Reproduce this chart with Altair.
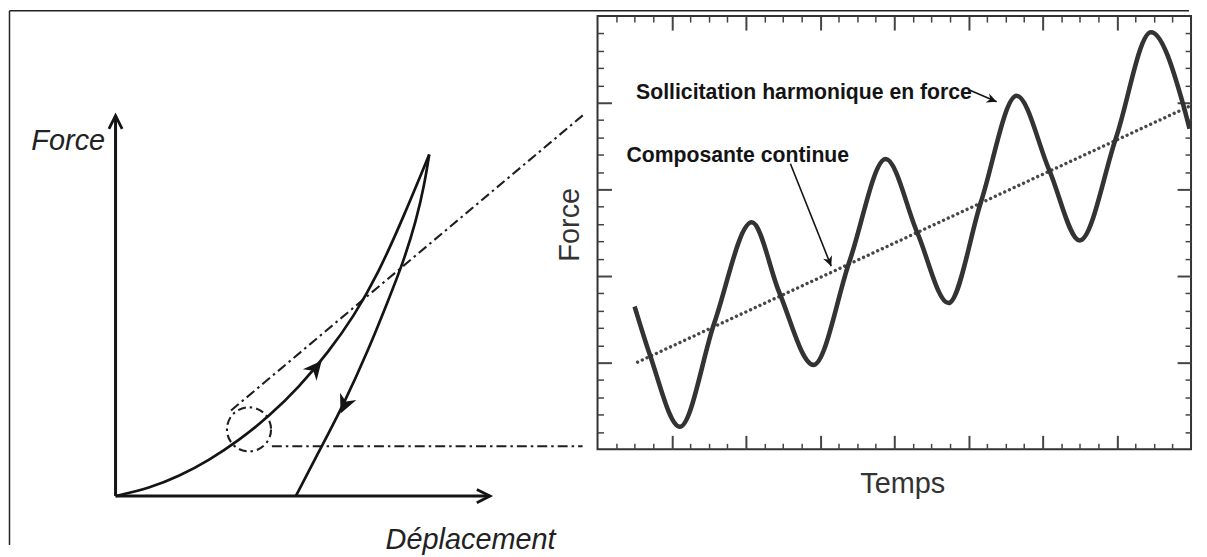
import altair as alt
import pandas as pd

FONT = "Liberation Sans"

# ---------------- right panel : Force vs Temps ----------------
sine_t = [0.50, 0.71, 1.11, 1.575, 2.08, 2.45, 2.91, 3.40, 3.885, 4.31, 4.73, 5.17, 5.65, 6.09, 6.50, 6.99, 7.46, 7.90, 7.98]
sine_f = [8.24, 5.40, 1.30, 7.30, 13.10, 9.05, 4.87, 10.90, 16.75, 12.50, 8.44, 14.30, 20.40, 16.10, 12.05, 18.00, 24.07, 19.80, 18.50]
trend_t = [0.54, 7.98]
trend_f = [5.03, 19.80]

x_major_ticks = [1, 2, 3, 4, 5, 6, 7]
x_minor_ticks = [0.25, 0.5, 0.75, 1.25, 1.5, 1.75, 2.25, 2.5, 2.75, 3.25, 3.5, 3.75,
                 4.25, 4.5, 4.75, 5.25, 5.5, 5.75, 6.25, 6.5, 6.75, 7.25, 7.5, 7.75]
y_major_ticks = [5, 10, 15, 20]
y_minor_ticks = [1, 2, 3, 4, 6, 7, 8, 9, 11, 12, 13, 14, 16, 17, 18, 19, 21, 22, 23, 24]

note_text = ["Sollicitation harmonique en force", "Composante continue"]
note_t = [0.52, 0.39]
note_f = [20.59, 16.95]
pointer_t0 = [5.02, 2.60]
pointer_f0 = [20.72, 16.48]
pointer_t1 = [5.38, 3.15]
pointer_f1 = [20.06, 10.57]
pointer_dir = [111.5, 158.3]

# ---------------- left panel : schematic Force / Deplacement ----------------
load_x = [0.0, 3.4, 6.4, 9.4, 12.4, 15.4, 18.4, 21.4, 23.9, 26.4, 28.9, 31.5]
load_y = [0.0, 0.8, 2.0, 3.6, 5.6, 8.0, 10.9, 14.5, 18.0, 22.4, 28.0, 34.3]
unload_x = [31.5, 31.0, 30.2, 28.9, 27.4, 25.4, 22.9, 20.7, 18.1]
unload_y = [34.3, 31.2, 27.7, 23.5, 19.7, 14.7, 9.2, 5.0, 0.0]

axis_x0 = [0.0, 0.0]
axis_y0 = [0.0, 0.0]
axis_x1 = [0.0, 37.6]
axis_y1 = [38.2, 0.0]
axis_dir = [0, 90]

guide_x0 = [11.6, 15.7]
guide_y0 = [8.6, 5.0]
guide_x1 = [47.0, 46.9]
guide_y1 = [38.3, 5.0]

zoom_x = [13.4]
zoom_y = [6.7]

curve_arrow_x = [20.7, 22.6]
curve_arrow_y = [13.6, 8.3]
curve_arrow_dir = [40.0, 204.0]

schema_text = ["Force", "Déplacement"]
schema_text_x = [-4.75, 35.65]
schema_text_y = [35.7, -4.4]

border_x0 = [-10.65, -10.65]
border_y0 = [-4.9, 48.75]
border_x1 = [-10.65, 107.8]
border_y1 = [48.75, 48.75]

# ---------------- frames ----------------
sine_df = pd.DataFrame({"t": sine_t, "f": sine_f})
trend_df = pd.DataFrame({"t": trend_t, "f": trend_f})
note_df = pd.DataFrame({"t": note_t, "f": note_f, "txt": note_text})
pointer_df = pd.DataFrame({"t0": pointer_t0, "f0": pointer_f0, "t1": pointer_t1,
                           "f1": pointer_f1, "dir": pointer_dir})
load_df = pd.DataFrame({"x": load_x, "y": load_y})
unload_df = pd.DataFrame({"x": unload_x, "y": unload_y})
axes_df = pd.DataFrame({"x0": axis_x0, "y0": axis_y0, "x1": axis_x1, "y1": axis_y1, "dir": axis_dir})
guide_df = pd.DataFrame({"x0": guide_x0, "y0": guide_y0, "x1": guide_x1, "y1": guide_y1})
zoom_df = pd.DataFrame({"x": zoom_x, "y": zoom_y})
carrow_df = pd.DataFrame({"x": curve_arrow_x, "y": curve_arrow_y, "dir": curve_arrow_dir})
stext_df = pd.DataFrame({"x": schema_text_x, "y": schema_text_y, "txt": schema_text})
border_df = pd.DataFrame({"x0": border_x0, "y0": border_y0, "x1": border_x1, "y1": border_y1})

W, H = 596, 435
DART = "M0,0 L0.48,1 L0,0.7 L-0.48,1 Z"
CHEVRON = "M-0.5,1 L0,0 L0.5,1"
INK = "#141414"

t_scale = alt.Scale(domain=[0, 8], nice=False, zero=False)
f_scale = alt.Scale(domain=[0, 25], nice=False, zero=False)
sx = alt.Scale(domain=[0, 10], range=[-484, -384], nice=False, zero=False)
sy = alt.Scale(domain=[0, 10], range=[482, 382], nice=False, zero=False)


def tick_axis(orient, values, size, width, **kw):
    return alt.Axis(orient=orient, values=values, tickSize=size, offset=-size,
                    tickWidth=width, tickColor="#444", labels=False, domain=False,
                    grid=False, **kw)


title_style = dict(titleFont=FONT, titleFontSize=29, titleFontWeight="normal", titleColor="#333")

sine = alt.Chart(sine_df).mark_line(interpolate="monotone", color="#333333", strokeWidth=4.6).encode(
    x=alt.X("t:Q", scale=t_scale,
            axis=tick_axis("bottom", x_major_ticks, 14, 2, title="Temps", titlePadding=19,
                           titleX=306, **title_style)),
    y=alt.Y("f:Q", scale=f_scale,
            axis=tick_axis("left", y_major_ticks, 14, 2, title="Force", titlePadding=12,
                           titleY=209, **title_style)),
)

trend = alt.Chart(trend_df).mark_line(strokeDash=[0.01, 5.2], strokeCap="round",
                                      strokeWidth=3.4, color="#474747").encode(
    x=alt.X("t:Q", scale=t_scale, axis=tick_axis("top", x_major_ticks, 14, 2, title=None)),
    y=alt.Y("f:Q", scale=f_scale, axis=tick_axis("right", y_major_ticks, 14, 2, title=None)),
)

shafts = alt.Chart(pointer_df).mark_rule(color=INK, strokeWidth=1.6).encode(
    x=alt.X("t0:Q", scale=t_scale, axis=tick_axis("bottom", x_minor_ticks, 6, 1.5, title=None)),
    y=alt.Y("f0:Q", scale=f_scale, axis=tick_axis("left", y_minor_ticks, 6, 1.5, title=None)),
    x2="t1:Q",
    y2="f1:Q",
)

notes = alt.Chart(note_df).mark_text(align="left", baseline="middle", font=FONT, fontSize=21.3,
                                     fontWeight="bold", color=INK).encode(
    x=alt.X("t:Q", scale=t_scale, axis=tick_axis("top", x_minor_ticks, 6, 1.5, title=None)),
    y=alt.Y("f:Q", scale=f_scale, axis=tick_axis("right", y_minor_ticks, 6, 1.5, title=None)),
    text="txt:N",
)

heads = alt.Chart(pointer_df).mark_point(shape=DART, filled=True, size=400, color=INK, opacity=1).encode(
    x=alt.X("t1:Q", scale=t_scale, axis=None),
    y=alt.Y("f1:Q", scale=f_scale, axis=None),
    angle=alt.Angle("dir:Q", scale=None),
)

right = alt.layer(trend, sine, shafts, notes, heads).resolve_axis(x="independent", y="independent")

# ---- schematic layers ----
border = alt.Chart(border_df).mark_rule(color="#222", strokeWidth=1.5).encode(
    x=alt.X("x0:Q", scale=sx, axis=None), y=alt.Y("y0:Q", scale=sy, axis=None),
    x2="x1:Q", y2="y1:Q")

axes_lines = alt.Chart(axes_df).mark_rule(color=INK, strokeWidth=3).encode(
    x=alt.X("x0:Q", scale=sx, axis=None), y=alt.Y("y0:Q", scale=sy, axis=None),
    x2="x1:Q", y2="y1:Q")

axes_heads = alt.Chart(axes_df).mark_point(shape=CHEVRON, filled=False, size=700, strokeWidth=2.8,
                                           color=INK, opacity=1).encode(
    x=alt.X("x1:Q", scale=sx, axis=None), y=alt.Y("y1:Q", scale=sy, axis=None),
    angle=alt.Angle("dir:Q", scale=None))

loading = alt.Chart(load_df).mark_line(interpolate="basis", color=INK, strokeWidth=2.7).encode(
    x=alt.X("x:Q", scale=sx, axis=None), y=alt.Y("y:Q", scale=sy, axis=None))

unloading = alt.Chart(unload_df).mark_line(interpolate="basis", color=INK, strokeWidth=2.7).encode(
    x=alt.X("x:Q", scale=sx, axis=None), y=alt.Y("y:Q", scale=sy, axis=None))

guides = alt.Chart(guide_df).mark_rule(color="#1e1e1e", strokeWidth=2.1, strokeDash=[10, 4, 2.5, 4]).encode(
    x=alt.X("x0:Q", scale=sx, axis=None), y=alt.Y("y0:Q", scale=sy, axis=None),
    x2="x1:Q", y2="y1:Q")

zoom_circle = alt.Chart(zoom_df).mark_point(shape="circle", filled=False, size=1963, strokeWidth=2.1,
                                            strokeDash=[8, 4, 2.5, 4], color="#1e1e1e", opacity=1).encode(
    x=alt.X("x:Q", scale=sx, axis=None), y=alt.Y("y:Q", scale=sy, axis=None))

curve_heads = alt.Chart(carrow_df).mark_point(shape=DART, filled=True, size=1400, color=INK, opacity=1).encode(
    x=alt.X("x:Q", scale=sx, axis=None), y=alt.Y("y:Q", scale=sy, axis=None),
    angle=alt.Angle("dir:Q", scale=None))

schema_labels = alt.Chart(stext_df).mark_text(font=FONT, fontSize=29, fontStyle="italic",
                                               color="#222", align="center", baseline="middle").encode(
    x=alt.X("x:Q", scale=sx, axis=None), y=alt.Y("y:Q", scale=sy, axis=None), text="txt:N")

left = alt.layer(border, guides, zoom_circle, loading, unloading, axes_lines, axes_heads,
                 curve_heads, schema_labels)

chart = (
    alt.layer(right, left)
    .resolve_scale(x="independent", y="independent")
    .properties(width=W, height=H, padding=0, background="white")
    .configure_view(stroke="#333", strokeWidth=2)
)

chart.save("out.html", embed_options={"renderer": "svg", "actions": False})
